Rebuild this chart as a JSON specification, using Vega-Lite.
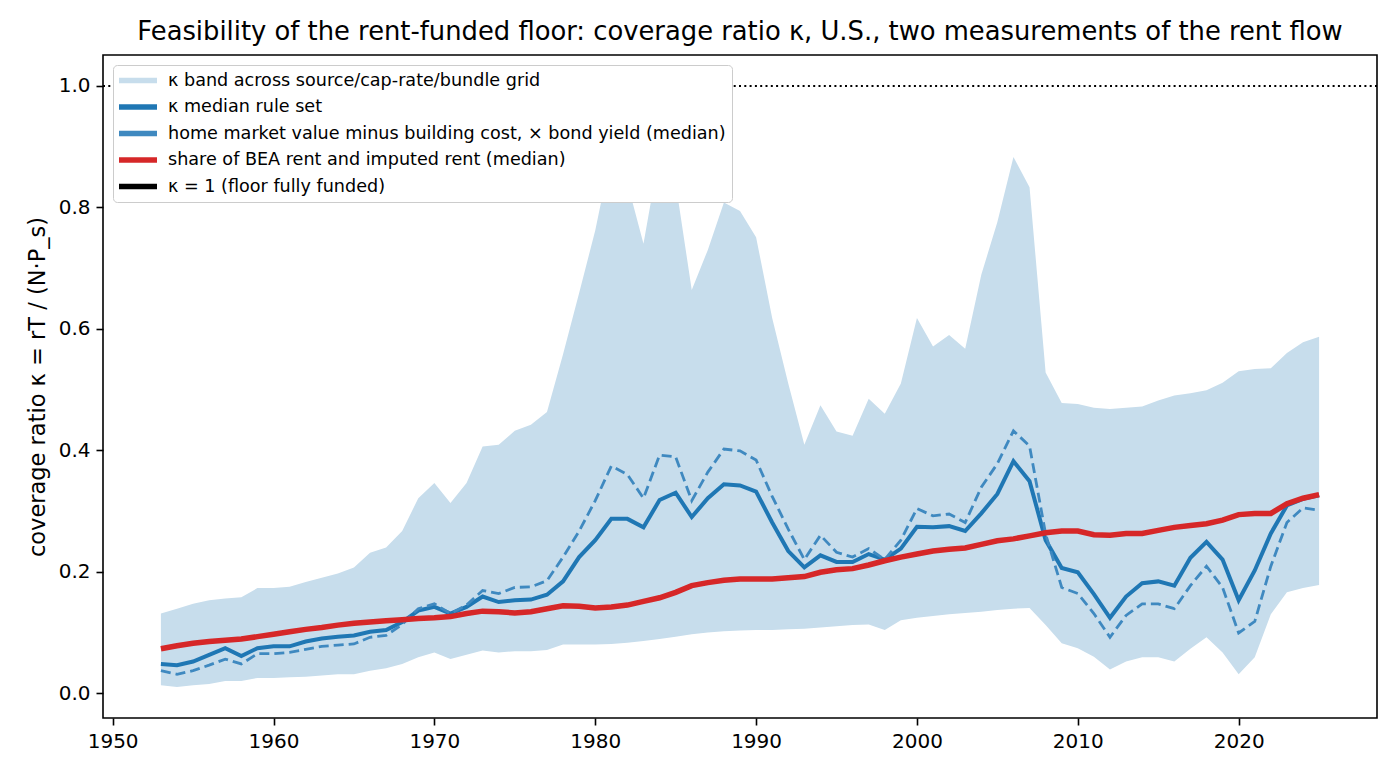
{
  "$schema": "https://vega.github.io/schema/vega-lite/v6.json",
  "description": "Coverage ratio kappa, band plus two medians and the rent share line",
  "width": 1274,
  "height": 663,
  "autosize": "none",
  "padding": {"left": 103, "top": 55, "right": 23, "bottom": 60},
  "background": "white",
  "title": {
    "text": "Feasibility of the rent-funded floor: coverage ratio κ, U.S., two measurements of the rent flow",
    "font": "DejaVu Sans",
    "fontSize": 25.8,
    "fontWeight": "normal",
    "color": "#000000",
    "anchor": "middle",
    "baseline": "alphabetic",
    "offset": 12,
    "dy": 23
  },
  "config": {
    "font": "DejaVu Sans",
    "view": {"stroke": "#000000", "strokeWidth": 1.6},
    "axis": {
      "grid": false,
      "domain": false,
      "labelFont": "DejaVu Sans",
      "labelFontSize": 20,
      "labelColor": "#000000",
      "tickColor": "#000000",
      "tickSize": 7,
      "tickWidth": 1.6,
      "labelPadding": 6,
      "titleFont": "DejaVu Sans",
      "titleFontSize": 22.5,
      "titleFontWeight": "normal",
      "titleColor": "#000000"
    }
  },
  "data": {
    "values": [
      {"year": 1953, "lo": 0.013, "hi": 0.131, "med": 0.048, "mkt": 0.037, "bea": 0.073},
      {"year": 1954, "lo": 0.010, "hi": 0.139, "med": 0.046, "mkt": 0.031, "bea": 0.078},
      {"year": 1955, "lo": 0.013, "hi": 0.147, "med": 0.052, "mkt": 0.037, "bea": 0.082},
      {"year": 1956, "lo": 0.015, "hi": 0.153, "med": 0.063, "mkt": 0.046, "bea": 0.085},
      {"year": 1957, "lo": 0.020, "hi": 0.156, "med": 0.074, "mkt": 0.056, "bea": 0.087},
      {"year": 1958, "lo": 0.020, "hi": 0.158, "med": 0.061, "mkt": 0.048, "bea": 0.089},
      {"year": 1959, "lo": 0.025, "hi": 0.173, "med": 0.074, "mkt": 0.065, "bea": 0.093},
      {"year": 1960, "lo": 0.025, "hi": 0.173, "med": 0.077, "mkt": 0.065, "bea": 0.097},
      {"year": 1961, "lo": 0.026, "hi": 0.175, "med": 0.077, "mkt": 0.067, "bea": 0.101},
      {"year": 1962, "lo": 0.027, "hi": 0.183, "med": 0.085, "mkt": 0.072, "bea": 0.105},
      {"year": 1963, "lo": 0.029, "hi": 0.190, "med": 0.090, "mkt": 0.077, "bea": 0.108},
      {"year": 1964, "lo": 0.031, "hi": 0.197, "med": 0.093, "mkt": 0.079, "bea": 0.112},
      {"year": 1965, "lo": 0.031, "hi": 0.207, "med": 0.095, "mkt": 0.081, "bea": 0.115},
      {"year": 1966, "lo": 0.037, "hi": 0.231, "med": 0.101, "mkt": 0.092, "bea": 0.117},
      {"year": 1967, "lo": 0.041, "hi": 0.240, "med": 0.104, "mkt": 0.095, "bea": 0.119},
      {"year": 1968, "lo": 0.048, "hi": 0.267, "med": 0.117, "mkt": 0.113, "bea": 0.121},
      {"year": 1969, "lo": 0.059, "hi": 0.321, "med": 0.136, "mkt": 0.139, "bea": 0.123},
      {"year": 1970, "lo": 0.067, "hi": 0.346, "med": 0.142, "mkt": 0.147, "bea": 0.124},
      {"year": 1971, "lo": 0.056, "hi": 0.313, "med": 0.131, "mkt": 0.131, "bea": 0.126},
      {"year": 1972, "lo": 0.063, "hi": 0.346, "med": 0.142, "mkt": 0.145, "bea": 0.131},
      {"year": 1973, "lo": 0.070, "hi": 0.406, "med": 0.159, "mkt": 0.169, "bea": 0.135},
      {"year": 1974, "lo": 0.067, "hi": 0.409, "med": 0.150, "mkt": 0.164, "bea": 0.134},
      {"year": 1975, "lo": 0.069, "hi": 0.432, "med": 0.153, "mkt": 0.174, "bea": 0.132},
      {"year": 1976, "lo": 0.069, "hi": 0.442, "med": 0.154, "mkt": 0.175, "bea": 0.134},
      {"year": 1977, "lo": 0.071, "hi": 0.463, "med": 0.162, "mkt": 0.185, "bea": 0.139},
      {"year": 1978, "lo": 0.080, "hi": 0.558, "med": 0.184, "mkt": 0.224, "bea": 0.144},
      {"year": 1979, "lo": 0.080, "hi": 0.659, "med": 0.224, "mkt": 0.267, "bea": 0.143},
      {"year": 1980, "lo": 0.080, "hi": 0.762, "med": 0.252, "mkt": 0.317, "bea": 0.140},
      {"year": 1981, "lo": 0.081, "hi": 0.890, "med": 0.287, "mkt": 0.374, "bea": 0.142},
      {"year": 1982, "lo": 0.083, "hi": 0.840, "med": 0.287, "mkt": 0.360, "bea": 0.145},
      {"year": 1983, "lo": 0.086, "hi": 0.740, "med": 0.273, "mkt": 0.321, "bea": 0.151},
      {"year": 1984, "lo": 0.089, "hi": 0.890, "med": 0.318, "mkt": 0.392, "bea": 0.157},
      {"year": 1985, "lo": 0.093, "hi": 0.840, "med": 0.330, "mkt": 0.389, "bea": 0.166},
      {"year": 1986, "lo": 0.097, "hi": 0.664, "med": 0.290, "mkt": 0.317, "bea": 0.177},
      {"year": 1987, "lo": 0.100, "hi": 0.730, "med": 0.321, "mkt": 0.364, "bea": 0.182},
      {"year": 1988, "lo": 0.102, "hi": 0.808, "med": 0.344, "mkt": 0.402, "bea": 0.186},
      {"year": 1989, "lo": 0.103, "hi": 0.794, "med": 0.342, "mkt": 0.399, "bea": 0.188},
      {"year": 1990, "lo": 0.104, "hi": 0.751, "med": 0.332, "mkt": 0.384, "bea": 0.188},
      {"year": 1991, "lo": 0.104, "hi": 0.618, "med": 0.281, "mkt": 0.324, "bea": 0.188},
      {"year": 1992, "lo": 0.105, "hi": 0.510, "med": 0.234, "mkt": 0.270, "bea": 0.190},
      {"year": 1993, "lo": 0.106, "hi": 0.409, "med": 0.207, "mkt": 0.220, "bea": 0.192},
      {"year": 1994, "lo": 0.108, "hi": 0.474, "med": 0.227, "mkt": 0.260, "bea": 0.199},
      {"year": 1995, "lo": 0.110, "hi": 0.431, "med": 0.216, "mkt": 0.232, "bea": 0.203},
      {"year": 1996, "lo": 0.112, "hi": 0.424, "med": 0.216, "mkt": 0.224, "bea": 0.205},
      {"year": 1997, "lo": 0.113, "hi": 0.485, "med": 0.229, "mkt": 0.238, "bea": 0.211},
      {"year": 1998, "lo": 0.104, "hi": 0.460, "med": 0.220, "mkt": 0.220, "bea": 0.218},
      {"year": 1999, "lo": 0.120, "hi": 0.510, "med": 0.238, "mkt": 0.252, "bea": 0.224},
      {"year": 2000, "lo": 0.124, "hi": 0.618, "med": 0.274, "mkt": 0.304, "bea": 0.229},
      {"year": 2001, "lo": 0.127, "hi": 0.571, "med": 0.273, "mkt": 0.292, "bea": 0.234},
      {"year": 2002, "lo": 0.130, "hi": 0.590, "med": 0.275, "mkt": 0.295, "bea": 0.237},
      {"year": 2003, "lo": 0.132, "hi": 0.567, "med": 0.267, "mkt": 0.281, "bea": 0.239},
      {"year": 2004, "lo": 0.134, "hi": 0.689, "med": 0.296, "mkt": 0.339, "bea": 0.245},
      {"year": 2005, "lo": 0.137, "hi": 0.776, "med": 0.328, "mkt": 0.378, "bea": 0.251},
      {"year": 2006, "lo": 0.139, "hi": 0.883, "med": 0.382, "mkt": 0.432, "bea": 0.254},
      {"year": 2007, "lo": 0.140, "hi": 0.833, "med": 0.349, "mkt": 0.407, "bea": 0.259},
      {"year": 2008, "lo": 0.112, "hi": 0.528, "med": 0.252, "mkt": 0.262, "bea": 0.264},
      {"year": 2009, "lo": 0.082, "hi": 0.478, "med": 0.206, "mkt": 0.174, "bea": 0.267},
      {"year": 2010, "lo": 0.074, "hi": 0.476, "med": 0.199, "mkt": 0.164, "bea": 0.267},
      {"year": 2011, "lo": 0.060, "hi": 0.470, "med": 0.163, "mkt": 0.131, "bea": 0.261},
      {"year": 2012, "lo": 0.039, "hi": 0.468, "med": 0.124, "mkt": 0.092, "bea": 0.260},
      {"year": 2013, "lo": 0.052, "hi": 0.470, "med": 0.159, "mkt": 0.128, "bea": 0.263},
      {"year": 2014, "lo": 0.059, "hi": 0.472, "med": 0.181, "mkt": 0.147, "bea": 0.263},
      {"year": 2015, "lo": 0.059, "hi": 0.482, "med": 0.184, "mkt": 0.147, "bea": 0.268},
      {"year": 2016, "lo": 0.052, "hi": 0.490, "med": 0.177, "mkt": 0.139, "bea": 0.273},
      {"year": 2017, "lo": 0.073, "hi": 0.494, "med": 0.223, "mkt": 0.177, "bea": 0.276},
      {"year": 2018, "lo": 0.092, "hi": 0.499, "med": 0.249, "mkt": 0.209, "bea": 0.279},
      {"year": 2019, "lo": 0.067, "hi": 0.511, "med": 0.220, "mkt": 0.174, "bea": 0.285},
      {"year": 2020, "lo": 0.031, "hi": 0.530, "med": 0.153, "mkt": 0.099, "bea": 0.294},
      {"year": 2021, "lo": 0.059, "hi": 0.534, "med": 0.202, "mkt": 0.118, "bea": 0.296},
      {"year": 2022, "lo": 0.130, "hi": 0.535, "med": 0.263, "mkt": 0.209, "bea": 0.296},
      {"year": 2023, "lo": 0.166, "hi": 0.560, "med": 0.309, "mkt": 0.281, "bea": 0.312},
      {"year": 2024, "lo": 0.173, "hi": 0.578, "med": 0.320, "mkt": 0.305, "bea": 0.321},
      {"year": 2025, "lo": 0.178, "hi": 0.587, "med": 0.326, "mkt": 0.301, "bea": 0.327}
    ]
  },
  "encoding": {
    "x": {
      "field": "year",
      "type": "quantitative",
      "scale": {"domain": [1949.4, 2028.6], "nice": false, "zero": false},
      "axis": {"values": [1950, 1960, 1970, 1980, 1990, 2000, 2010, 2020], "format": "d", "title": null}
    }
  },
  "layer": [
    {
      "mark": {"type": "area", "opacity": 1},
      "encoding": {
        "y": {
          "field": "lo",
          "type": "quantitative",
          "scale": {"domain": [-0.041, 1.051], "nice": false, "zero": false},
          "axis": {
            "values": [0, 0.2, 0.4, 0.6, 0.8, 1.0],
            "format": ".1f",
            "title": "coverage ratio κ = rT / (N·P_s)",
            "titlePadding": 9
          }
        },
        "y2": {"field": "hi"},
        "color": {
          "datum": "κ band across source/cap-rate/bundle grid",
          "type": "nominal",
          "scale": {
            "domain": [
              "κ band across source/cap-rate/bundle grid",
              "κ median rule set",
              "home market value minus building cost, × bond yield (median)",
              "share of BEA rent and imputed rent (median)",
              "κ = 1 (floor fully funded)"
            ],
            "range": ["#c7ddec", "#1f77b4", "#3f89c0", "#d62728", "#000000"]
          },
          "legend": {
            "title": null,
            "orient": "top-left",
            "offset": 10,
            "fillColor": "#ffffff",
            "strokeColor": "#cccccc",
            "cornerRadius": 4,
            "padding": 6,
            "rowPadding": 7.5,
            "labelFont": "DejaVu Sans",
            "labelFontSize": 17.6,
            "labelColor": "#000000",
            "labelLimit": 1000,
            "labelOffset": 30,
            "symbolSize": 361,
            "symbolType": "M-1,-0.3H3V0.3H-1Z",
            "symbolStrokeWidth": 0,
            "symbolOpacity": 1
          }
        }
      }
    },
    {
      "mark": {"type": "line", "strokeWidth": 4},
      "encoding": {
        "y": {"field": "med", "type": "quantitative"},
        "color": {"datum": "κ median rule set", "type": "nominal", "legend": null}
      }
    },
    {
      "mark": {"type": "line", "strokeWidth": 2.8, "strokeDash": [10, 5]},
      "encoding": {
        "y": {"field": "mkt", "type": "quantitative"},
        "color": {"datum": "home market value minus building cost, × bond yield (median)", "type": "nominal", "legend": null}
      }
    },
    {
      "mark": {"type": "line", "strokeWidth": 5.5},
      "encoding": {
        "y": {"field": "bea", "type": "quantitative"},
        "color": {"datum": "share of BEA rent and imputed rent (median)", "type": "nominal", "legend": null}
      }
    },
    {
      "data": {"values": [{"k": 1.0}]},
      "mark": {"type": "rule", "strokeWidth": 2, "strokeDash": [2, 3.3]},
      "encoding": {
        "x": null,
        "y": {"field": "k", "type": "quantitative"},
        "color": {"datum": "κ = 1 (floor fully funded)", "type": "nominal", "legend": null}
      }
    }
  ]
}
